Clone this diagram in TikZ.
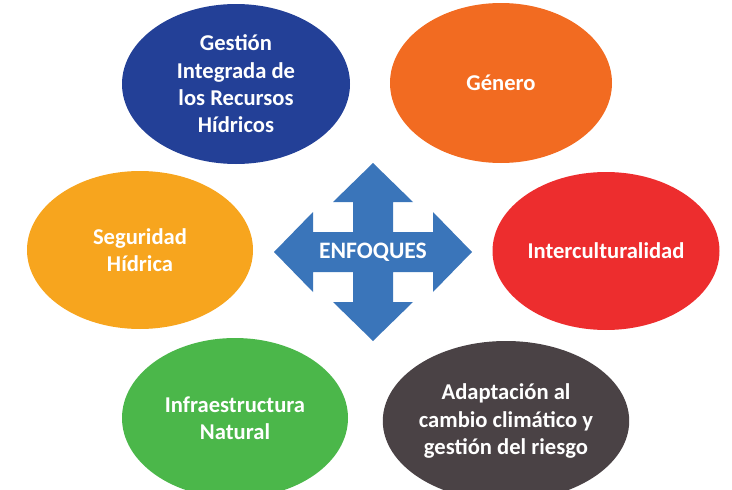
\documentclass[tikz,border=0pt]{standalone}
\usepackage{fontspec}
\setmainfont{Carlito}
\usetikzlibrary{shapes.geometric}
\definecolor{cBlue}{RGB}{35,64,151}
\definecolor{cOrange}{RGB}{242,107,33}
\definecolor{cYellow}{RGB}{247,165,30}
\definecolor{cRed}{RGB}{237,45,46}
\definecolor{cGreen}{RGB}{75,183,74}
\definecolor{cDark}{RGB}{74,66,69}
\definecolor{cArrow}{RGB}{58,117,186}
\tikzset{
  bubble/.style={ellipse, inner sep=0pt, minimum width=228pt, minimum height=160pt,
    text=white, align=center, font=\fontsize{22.6}{27.4}\selectfont\bfseries},
}
\begin{document}
\begin{tikzpicture}[x=1pt,y=-1pt]
\useasboundingbox (0,0) rectangle (732,490);
\clip (0,0) rectangle (732,490);
\node[bubble, fill=cBlue] (girh) at (236,84) {Gestión\\Integrada de\\los Recursos\\Hídricos};
\node[bubble, fill=cOrange, minimum width=222pt] (genero) at (501,83) {Género};
\node[bubble, fill=cYellow, minimum width=226pt, minimum height=158pt] (seg) at (140,250) {Seguridad\\Hídrica};
\node[bubble, fill=cRed, minimum width=227pt, minimum height=158pt] (inter) at (606,251) {Interculturalidad};
\node[bubble, fill=cGreen, minimum width=226pt] (infra) at (235,418) {Infraestructura\\Natural};
\node[bubble, fill=cDark, minimum width=229pt] (adapt) at (506,421) {Adaptación al\\cambio climático y\\gestión del riesgo};
\coordinate (c) at (373,252);
\fill[cArrow] ([shift={(0,-89)}]c) -- ++(40,39) -- ++(-20,0) -- ++(0,30) -- ++(40,0) -- ++(0,-20)
  -- ++(39,40) -- ++(-39,40) -- ++(0,-20) -- ++(-40,0) -- ++(0,30) -- ++(20,0)
  -- ++(-40,39) -- ++(-40,-39) -- ++(20,0) -- ++(0,-30) -- ++(-40,0) -- ++(0,20)
  -- ++(-39,-40) -- ++(39,-40) -- ++(0,20) -- ++(40,0) -- ++(0,-30) -- ++(-20,0) -- cycle;
\node[text=white, font=\fontsize{23.6}{28}\selectfont\bfseries] (enf) at (c) {ENFOQUES};
\end{tikzpicture}
\end{document}
